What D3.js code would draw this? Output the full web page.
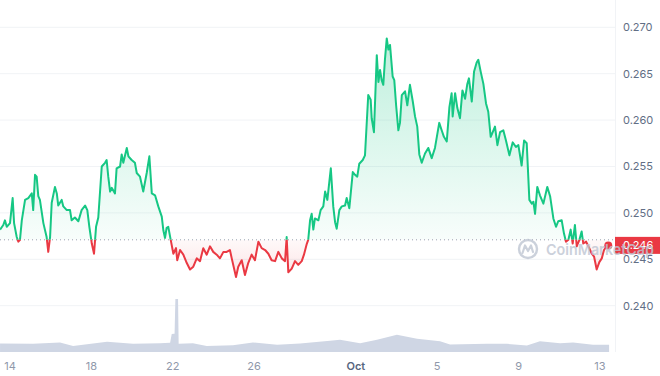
<!DOCTYPE html>
<html>
<head>
<meta charset="utf-8">
<script src="https://cdn.jsdelivr.net/npm/d3@7"></script>
<style>
  html, body { margin: 0; padding: 0; background: #fff; }
  svg { display: block; font-family: Inter, "Noto Sans", sans-serif; }
</style>
</head>
<body>
<svg id="chart"></svg>
<script>
// day numbers counted from Sep 1 (31 = Oct 1), fractional = time of day
const days = [
  13.51,13.67,13.75,13.84,14.00,14.13,14.20,14.33,14.41,14.49,
  14.58,14.74,14.90,15.07,15.14,15.23,15.31,15.39,15.47,15.64,
  15.80,15.88,15.97,16.05,16.21,16.30,16.37,16.54,16.62,16.79,
  16.95,17.03,17.19,17.36,17.52,17.69,17.80,17.90,18.02,18.13,
  18.23,18.34,18.51,18.67,18.75,18.83,18.92,19.00,19.16,19.24,
  19.41,19.49,19.57,19.74,19.82,19.98,20.14,20.23,20.39,20.55,
  20.72,20.85,20.97,21.13,21.29,21.46,21.54,21.62,21.70,21.78,
  21.90,22.03,22.16,22.22,22.36,22.52,22.69,22.85,23.01,23.18,
  23.34,23.50,23.67,23.83,23.99,24.16,24.32,24.49,24.65,24.81,
  24.90,25.11,25.22,25.39,25.55,25.71,25.88,26.04,26.21,26.37,
  26.54,26.70,26.86,27.03,27.19,27.36,27.52,27.60,27.68,27.85,
  28.01,28.17,28.34,28.45,28.58,28.66,28.75,28.83,28.91,28.99,
  29.16,29.27,29.40,29.49,29.60,29.77,29.89,29.98,30.06,30.19,
  30.31,30.47,30.55,30.68,30.85,30.96,31.07,31.17,31.34,31.45,
  31.61,31.73,31.78,31.89,32.03,32.11,32.19,32.27,32.35,32.43,
  32.52,32.60,32.68,32.81,32.89,32.98,33.09,33.17,33.26,33.42,
  33.53,33.66,33.80,33.91,34.02,34.12,34.24,34.40,34.56,34.73,
  34.89,35.10,35.22,35.33,35.47,35.60,35.71,35.76,35.88,35.99,
  36.12,36.24,36.37,36.48,36.56,36.70,36.81,36.94,37.02,37.14,
  37.27,37.40,37.51,37.63,37.73,37.84,37.96,38.09,38.25,38.38,
  38.55,38.71,38.87,38.99,39.15,39.27,39.40,39.53,39.65,39.73,
  39.81,39.92,40.05,40.22,40.41,40.55,40.71,40.84,40.95,41.12,
  41.23,41.33,41.45,41.56,41.66,41.77,41.86,41.99,42.10,42.18,
  42.32,42.43,42.60,42.71,42.84,42.97,43.09,43.20,43.33,43.41
];
const prices = [
  .2482,.2487,.2492,.2485,.2489,.2516,.2489,.2474,.2469,.2471,
  .2492,.2514,.2516,.2521,.2503,.2541,.2539,.2518,.2514,.2489,
  .2474,.2458,.2474,.2511,.2528,.2521,.2508,.2514,.2507,.2503,
  .2503,.2492,.2495,.2491,.2503,.2508,.2503,.2485,.2467,.2456,
  .2485,.2495,.2550,.2554,.2557,.2539,.2523,.2527,.2521,.2548,
  .2550,.2563,.2554,.2570,.2561,.2557,.2554,.2543,.2539,.2523,
  .2543,.2561,.2521,.2519,.2507,.2496,.2481,.2473,.2484,.2485,
  .2471,.2456,.2462,.2449,.2460,.2455,.2446,.2439,.2442,.2451,
  .2448,.2462,.2455,.2464,.2458,.2455,.2451,.2458,.2458,.2460,
  .2451,.2431,.2442,.2449,.2433,.2446,.2455,.2449,.2469,.2462,
  .2460,.2456,.2449,.2448,.2458,.2451,.2448,.2474,.2436,.2440,
  .2448,.2444,.2448,.2455,.2466,.2471,.2492,.2499,.2482,.2494,
  .2492,.2503,.2507,.2523,.2514,.2548,.2507,.2490,.2483,.2503,
  .2507,.2508,.2516,.2505,.2544,.2541,.2539,.2553,.2557,.2562,
  .2627,.2622,.2602,.2587,.2670,.2641,.2654,.2643,.2638,.2665,
  .2688,.2676,.2681,.2647,.2643,.2616,.2589,.2597,.2627,.2631,
  .2616,.2638,.2620,.2604,.2593,.2563,.2554,.2564,.2570,.2559,
  .2570,.2597,.2589,.2582,.2577,.2614,.2629,.2604,.2629,.2613,
  .2602,.2632,.2623,.2639,.2645,.2620,.2652,.2662,.2665,.2652,
  .2639,.2618,.2609,.2582,.2587,.2593,.2573,.2587,.2589,.2578,
  .2562,.2576,.2571,.2573,.2551,.2578,.2575,.2514,.2510,.2512,
  .2499,.2528,.2519,.2510,.2528,.2518,.2494,.2485,.2491,.2492,
  .2478,.2469,.2471,.2482,.2467,.2487,.2464,.2471,.2480,.2467,
  .2469,.2464,.2456,.2453,.2439,.2447,.2451,.2460,.2464,.2465
];
// volume (millions USD)
const volDays = [
  13.51,15.13,16.46,17.10,18.77,20.05,21.37,21.87,21.95,22.06,
  22.09,22.13,22.26,22.29,22.99,23.67,24.96,25.94,27.13,28.26,
  29.73,30.22,31.21,32.04,33.02,34.01,35.14,35.63,37.45,38.43,
  39.41,40.05,41.04,41.68,42.66,43.45
];
const volumes = [
  50,48,56,36,60,48,52,54,106,108,
  108,312,312,48,52,36,40,56,42,50,
  66,72,52,72,102,78,64,44,48,48,
  38,64,52,56,42,42
];
const refPrice = 0.2471;
const lastPrice = 0.2465;
const yTicks = [0.240, 0.245, 0.250, 0.255, 0.260, 0.265, 0.270];
const xTickDays = [14, 18, 22, 26, 31, 35, 39, 43];
const xTickLabels = ['14', '18', '22', '26', 'Oct', '5', '9', '13'];

const width = 660, height = 376;
const plotRight = 615, baseY = 352;
const green = '#16c784', red = '#ea3943';

const toDate = d => new Date(Date.UTC(2023, 7, 31) + d * 864e5);
const data = days.map((d, i) => ({ t: toDate(d), p: prices[i] }));
const vol = volDays.map((d, i) => ({ t: toDate(d), v: volumes[i] }));

const svg = d3.select('#chart').attr('width', width).attr('height', height);

const x = d3.scaleUtc().domain([toDate(13.508), toDate(43.74)]).range([0, plotRight]);
const y = d3.scaleLinear().domain([0.235, 0.270]).range([352.1, 27.3]);
const yv = d3.scaleLinear().domain([0, 312]).range([baseY, 299]);
const yRef = y(refPrice);

const defs = svg.append('defs');
defs.append('clipPath').attr('id', 'clip-up')
  .append('rect').attr('x', 0).attr('y', 0).attr('width', plotRight).attr('height', yRef);
defs.append('clipPath').attr('id', 'clip-down')
  .append('rect').attr('x', 0).attr('y', yRef).attr('width', plotRight).attr('height', baseY - yRef);

const gUp = defs.append('linearGradient').attr('id', 'grad-up')
  .attr('gradientUnits', 'userSpaceOnUse').attr('x1', 0).attr('x2', 0).attr('y1', y(0.269)).attr('y2', yRef);
gUp.append('stop').attr('offset', 0).attr('stop-color', green).attr('stop-opacity', 0.28);
gUp.append('stop').attr('offset', 1).attr('stop-color', green).attr('stop-opacity', 0.03);
const gDn = defs.append('linearGradient').attr('id', 'grad-down')
  .attr('gradientUnits', 'userSpaceOnUse').attr('x1', 0).attr('x2', 0).attr('y1', yRef).attr('y2', y(0.243));
gDn.append('stop').attr('offset', 0).attr('stop-color', red).attr('stop-opacity', 0.03);
gDn.append('stop').attr('offset', 1).attr('stop-color', red).attr('stop-opacity', 0.14);

// Grid
svg.append('g').selectAll('line').data(yTicks).join('line')
  .attr('x1', 0).attr('x2', plotRight)
  .attr('y1', d => y(d)).attr('y2', d => y(d))
  .attr('stroke', '#f1f3f6').attr('stroke-width', 1);
svg.append('line')
  .attr('x1', plotRight + 0.5).attr('x2', plotRight + 0.5).attr('y1', 0).attr('y2', baseY)
  .attr('stroke', '#f1f3f6');

// Volume
svg.append('path').datum(vol)
  .attr('fill', '#cfd6e4')
  .attr('d', d3.area().x(d => x(d.t)).y0(baseY).y1(d => yv(d.v)));

// Price areas
const area = d3.area().x(d => x(d.t)).y0(yRef).y1(d => y(d.p));
svg.append('path').datum(data).attr('clip-path', 'url(#clip-up)')
  .attr('fill', 'url(#grad-up)').attr('d', area);
svg.append('path').datum(data).attr('clip-path', 'url(#clip-down)')
  .attr('fill', 'url(#grad-down)').attr('d', area);

// Reference line
svg.append('line')
  .attr('x1', 0).attr('x2', plotRight).attr('y1', yRef).attr('y2', yRef)
  .attr('stroke', '#9aa2b1').attr('stroke-width', 1).attr('stroke-dasharray', '1 3');

// Price lines
const line = d3.line().x(d => x(d.t)).y(d => y(d.p));
svg.append('path').datum(data).attr('clip-path', 'url(#clip-up)')
  .attr('fill', 'none').attr('stroke', green).attr('stroke-width', 2)
  .attr('stroke-linejoin', 'round').attr('d', line);
svg.append('path').datum(data).attr('clip-path', 'url(#clip-down)')
  .attr('fill', 'none').attr('stroke', red).attr('stroke-width', 2)
  .attr('stroke-linejoin', 'round').attr('d', line);

// Last point
const last = data[data.length - 1];
svg.append('circle').attr('cx', x(last.t)).attr('cy', y(last.p)).attr('r', 4).attr('fill', red);

// Y axis labels
svg.append('g').selectAll('text').data(yTicks).join('text')
  .attr('x', 623).attr('y', d => y(d)).attr('dy', '0.35em')
  .attr('font-size', '11px').attr('fill', '#616e85')
  .text(d => d3.format('.3f')(d));

// Current price tag
svg.append('rect').attr('x', plotRight).attr('y', y(lastPrice) - 8.5)
  .attr('width', width - plotRight).attr('height', 17).attr('fill', red);
svg.append('text').attr('x', 623).attr('y', y(lastPrice)).attr('dy', '0.35em')
  .attr('font-size', '11px').attr('fill', '#fff').text(d3.format('.3f')(lastPrice));

// X axis labels
svg.append('g').selectAll('text').data(xTickDays).join('text')
  .attr('x', d => x(toDate(d))).attr('y', 366).attr('dy', '0.35em')
  .attr('text-anchor', 'middle').attr('font-size', '11px')
  .attr('font-weight', (d, i) => xTickLabels[i] === 'Oct' ? 600 : 400)
  .attr('fill', (d, i) => xTickLabels[i] === 'Oct' ? '#58667e' : '#8f98aa')
  .text((d, i) => xTickLabels[i]);

// Watermark (on top, translucent)
const wm = svg.append('g').attr('opacity', 0.8);
wm.append('circle').attr('cx', 528).attr('cy', 249).attr('r', 9)
  .attr('fill', 'none').attr('stroke', '#bfc6d3').attr('stroke-width', 2.4);
wm.append('path').attr('d', 'M522.5,253 L525,245.5 L528,251 L531,245.5 L533,252')
  .attr('fill', 'none').attr('stroke', '#bfc6d3').attr('stroke-width', 2.2)
  .attr('stroke-linejoin', 'round').attr('stroke-linecap', 'round');
wm.append('text').attr('x', 546).attr('y', 255)
  .attr('font-size', '15px').attr('font-weight', 600).attr('fill', '#bfc6d3')
  .attr('textLength', 108).attr('lengthAdjust', 'spacingAndGlyphs').text('CoinMarketCap');
</script>
</body>
</html>
